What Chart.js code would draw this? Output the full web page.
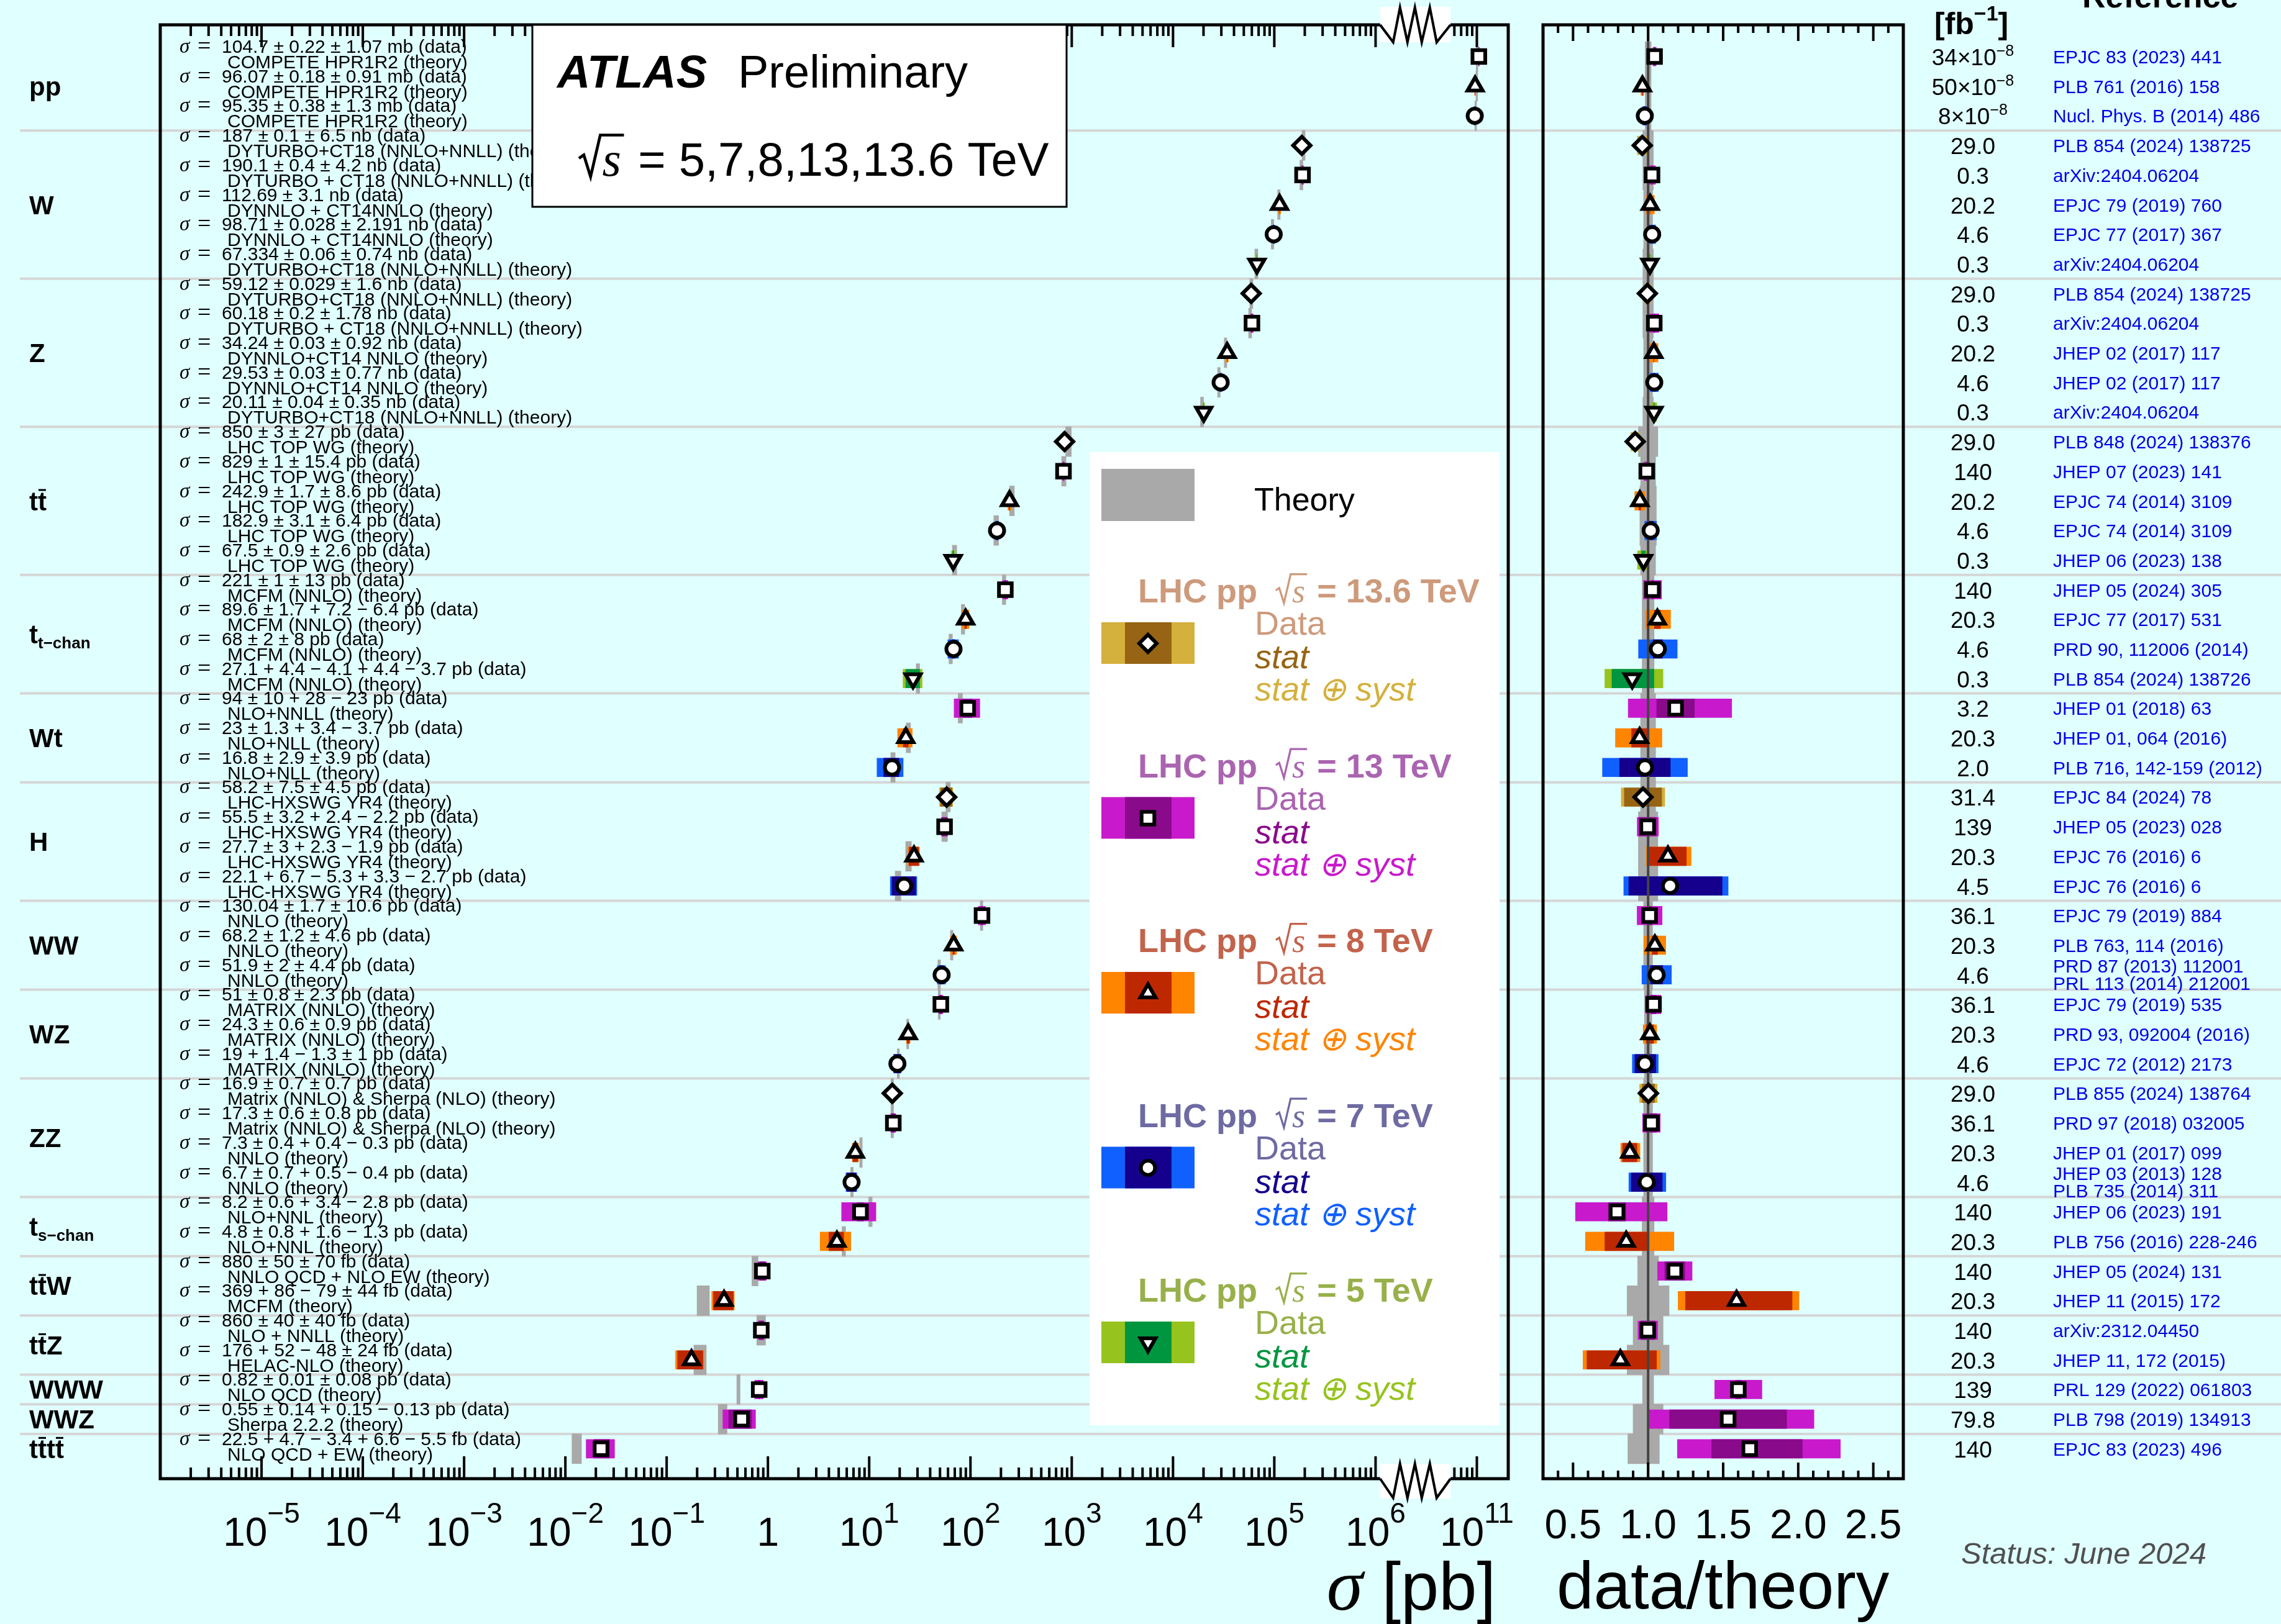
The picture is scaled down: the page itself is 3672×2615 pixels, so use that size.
<!DOCTYPE html>
<html>
<head>
<meta charset="utf-8">
<script src="https://cdn.jsdelivr.net/npm/chart.js@4.4.1/dist/chart.umd.min.js"></script>
<style>
  html, body { margin: 0; padding: 0; background: #e0ffff; }
  canvas { position: absolute; left: 0; top: 0; }
</style>
</head>
<body>
<canvas id="main" width="3672" height="2615"></canvas>
<canvas id="ratio" width="3672" height="2615"></canvas>
<script>
// ---- data ----
const processLabels = [
  [['pp']], [['W']], [['Z']], [['t'], ['t', 'bar']], [['t'], ['t\u2212chan', 'sub']],
  [['Wt']], [['H']], [['WW']], [['WZ']], [['ZZ']], [['t'], ['s\u2212chan', 'sub']],
  [['t'], ['t', 'bar'], ['W']], [['t'], ['t', 'bar'], ['Z']], [['WWW']], [['WWZ']],
  [['t'], ['t', 'bar'], ['t'], ['t', 'bar']]
];
const groupSizes = [3, 5, 5, 5, 4, 3, 4, 3, 3, 4, 2, 2, 2, 1, 1, 1];

const energies = [13, 8, 7, 13.6, 13, 8, 7, 5, 13.6, 13, 8, 7, 5, 13.6, 13, 8, 7, 5, 13, 8, 7, 5,
  13, 8, 7, 13.6, 13, 8, 7, 13, 8, 7, 13, 8, 7, 13.6, 13, 8, 7, 13, 8, 13, 8, 13, 8, 13, 13, 13];

const sigma = [104.7, 96.07, 95.35, 187, 190.1, 112.69, 98.71, 67.334, 59.12, 60.18, 34.24, 29.53, 20.11,
  850, 829, 242.9, 182.9, 67.5, 221, 89.6, 68, 27.1, 94, 23, 16.8, 58.2, 55.5, 27.7, 22.1,
  130.04, 68.2, 51.9, 51, 24.3, 19, 16.9, 17.3, 7.3, 6.7, 8.2, 4.8, 880, 369, 860, 176, 0.82, 0.55, 22.5];
const units = ['mb', 'mb', 'mb', 'nb', 'nb', 'nb', 'nb', 'nb', 'nb', 'nb', 'nb', 'nb', 'nb',
  'pb', 'pb', 'pb', 'pb', 'pb', 'pb', 'pb', 'pb', 'pb', 'pb', 'pb', 'pb', 'pb', 'pb', 'pb', 'pb',
  'pb', 'pb', 'pb', 'pb', 'pb', 'pb', 'pb', 'pb', 'pb', 'pb', 'pb', 'pb', 'fb', 'fb', 'fb', 'fb', 'pb', 'pb', 'fb'];
const statUp = [0.22, 0.18, 0.38, 0.1, 0.4, 0, 0.028, 0.06, 0.029, 0.2, 0.03, 0.03, 0.04,
  3, 1, 1.7, 3.1, 0.9, 1, 1.7, 2, 4.4, 10, 1.3, 2.9, 7.5, 3.2, 3, 6.7,
  1.7, 1.2, 2, 0.8, 0.6, 1.4, 0.7, 0.6, 0.4, 0.7, 0.6, 0.8, 50, 86, 40, 52, 0.01, 0.14, 4.7];
const statDn = [0.22, 0.18, 0.38, 0.1, 0.4, 0, 0.028, 0.06, 0.029, 0.2, 0.03, 0.03, 0.04,
  3, 1, 1.7, 3.1, 0.9, 1, 1.7, 2, 4.1, 10, 1.3, 2.9, 7.5, 3.2, 3, 5.3,
  1.7, 1.2, 2, 0.8, 0.6, 1.3, 0.7, 0.6, 0.4, 0.7, 0.6, 0.8, 50, 79, 40, 48, 0.01, 0.14, 3.4];
const systUp = [1.07, 0.91, 1.3, 6.5, 4.2, 3.1, 2.191, 0.74, 1.6, 1.78, 0.92, 0.77, 0.35,
  27, 15.4, 8.6, 6.4, 2.6, 13, 7.2, 8, 4.4, 28, 3.4, 3.9, 4.5, 2.4, 2.3, 3.3,
  10.6, 4.6, 4.4, 2.3, 0.9, 1, 0.7, 0.8, 0.4, 0.5, 3.4, 1.6, 70, 44, 40, 24, 0.08, 0.15, 6.6];
const systDn = [1.07, 0.91, 1.3, 6.5, 4.2, 3.1, 2.191, 0.74, 1.6, 1.78, 0.92, 0.77, 0.35,
  27, 15.4, 8.6, 6.4, 2.6, 13, 6.4, 8, 3.7, 23, 3.7, 3.9, 4.5, 2.2, 1.9, 2.7,
  10.6, 4.6, 4.4, 2.3, 0.9, 1, 0.7, 0.8, 0.3, 0.4, 2.8, 1.3, 70, 44, 40, 24, 0.08, 0.13, 5.5];

const theoryNames = ['COMPETE HPR1R2', 'COMPETE HPR1R2', 'COMPETE HPR1R2',
  'DYTURBO+CT18 (NNLO+NNLL)', 'DYTURBO + CT18 (NNLO+NNLL)', 'DYNNLO + CT14NNLO', 'DYNNLO + CT14NNLO', 'DYTURBO+CT18 (NNLO+NNLL)',
  'DYTURBO+CT18 (NNLO+NNLL)', 'DYTURBO + CT18 (NNLO+NNLL)', 'DYNNLO+CT14 NNLO', 'DYNNLO+CT14 NNLO', 'DYTURBO+CT18 (NNLO+NNLL)',
  'LHC TOP WG', 'LHC TOP WG', 'LHC TOP WG', 'LHC TOP WG', 'LHC TOP WG',
  'MCFM (NNLO)', 'MCFM (NNLO)', 'MCFM (NNLO)', 'MCFM (NNLO)',
  'NLO+NNLL', 'NLO+NLL', 'NLO+NLL',
  'LHC-HXSWG YR4', 'LHC-HXSWG YR4', 'LHC-HXSWG YR4', 'LHC-HXSWG YR4',
  'NNLO', 'NNLO', 'NNLO', 'MATRIX (NNLO)', 'MATRIX (NNLO)', 'MATRIX (NNLO)',
  'Matrix (NNLO) & Sherpa (NLO)', 'Matrix (NNLO) & Sherpa (NLO)', 'NNLO', 'NNLO',
  'NLO+NNL', 'NLO+NNL', 'NNLO QCD + NLO EW', 'MCFM', 'NLO + NNLL', 'HELAC-NLO',
  'NLO QCD', 'Sherpa 2.2.2', 'NLO QCD + EW'];
// theory prediction [pb] and relative uncertainty band
const theoryPb = [1.004e11, 9.99e10, 9.75e10, 1.946e5, 1.853e5, 1.111e5, 9.61e4, 6.65e4, 5.94e4, 5.78e4, 3.30e4, 2.84e4, 1.935e4,
  930, 836.5, 257, 179.8, 69.7, 214.8, 84.4, 63.8, 30.3, 79.5, 24.4, 17.2, 60.2, 55.7, 24.5, 19.3,
  128.7, 65.3, 49.1, 49.2, 24.0, 19.4, 16.9, 16.9, 8.3, 6.76, 10.3, 5.62, 0.747, 0.232, 0.862, 0.216, 0.512, 0.359, 0.01342];
const thLo = [0.02, 0.02, 0.02, 0.035, 0.035, 0.03, 0.03, 0.035, 0.035, 0.035, 0.03, 0.03, 0.035,
  0.065, 0.05, 0.055, 0.055, 0.05, 0.04, 0.04, 0.04, 0.04, 0.05, 0.05, 0.05, 0.05, 0.065, 0.065, 0.065,
  0.03, 0.03, 0.03, 0.025, 0.025, 0.025, 0.03, 0.03, 0.03, 0.03, 0.04, 0.04, 0.07, 0.14, 0.1, 0.14, 0.037, 0.1, 0.135];
const thHi = [0.02, 0.02, 0.02, 0.035, 0.035, 0.03, 0.03, 0.035, 0.035, 0.035, 0.03, 0.03, 0.035,
  0.065, 0.05, 0.055, 0.055, 0.05, 0.04, 0.04, 0.04, 0.04, 0.05, 0.05, 0.05, 0.05, 0.065, 0.065, 0.065,
  0.03, 0.03, 0.03, 0.025, 0.025, 0.025, 0.03, 0.03, 0.03, 0.03, 0.04, 0.04, 0.07, 0.14, 0.1, 0.14, 0.037, 0.1, 0.075];
const ratio = [1.043, 0.962, 0.978, 0.961, 1.026, 1.014, 1.027, 1.012, 0.995, 1.041, 1.038, 1.041, 1.039,
  0.914, 0.991, 0.945, 1.017, 0.969, 1.029, 1.062, 1.065, 0.894, 1.183, 0.943, 0.979, 0.966, 0.997, 1.132, 1.146,
  1.010, 1.045, 1.057, 1.036, 1.012, 0.979, 1.002, 1.022, 0.878, 0.991, 0.793, 0.854, 1.178, 1.589, 0.998, 0.815, 1.601, 1.533, 1.677];

const lumis = ['34\u00d710^\u22128', '50\u00d710^\u22128', '8\u00d710^\u22128', '29.0', '0.3', '20.2', '4.6', '0.3',
  '29.0', '0.3', '20.2', '4.6', '0.3', '29.0', '140', '20.2', '4.6', '0.3', '140', '20.3', '4.6', '0.3',
  '3.2', '20.3', '2.0', '31.4', '139', '20.3', '4.5', '36.1', '20.3', '4.6', '36.1', '20.3', '4.6',
  '29.0', '36.1', '20.3', '4.6', '140', '20.3', '140', '20.3', '140', '20.3', '139', '79.8', '140'];
const refs = ['EPJC 83 (2023) 441', 'PLB 761 (2016) 158', 'Nucl. Phys. B (2014) 486',
  'PLB 854 (2024) 138725', 'arXiv:2404.06204', 'EPJC 79 (2019) 760', 'EPJC 77 (2017) 367', 'arXiv:2404.06204',
  'PLB 854 (2024) 138725', 'arXiv:2404.06204', 'JHEP 02 (2017) 117', 'JHEP 02 (2017) 117', 'arXiv:2404.06204',
  'PLB 848 (2024) 138376', 'JHEP 07 (2023) 141', 'EPJC 74 (2014) 3109', 'EPJC 74 (2014) 3109', 'JHEP 06 (2023) 138',
  'JHEP 05 (2024) 305', 'EPJC 77 (2017) 531', 'PRD 90, 112006 (2014)', 'PLB 854 (2024) 138726',
  'JHEP 01 (2018) 63', 'JHEP 01, 064 (2016)', 'PLB 716, 142-159 (2012)',
  'EPJC 84 (2024) 78', 'JHEP 05 (2023) 028', 'EPJC 76 (2016) 6', 'EPJC 76 (2016) 6',
  'EPJC 79 (2019) 884', 'PLB 763, 114 (2016)', 'PRD 87 (2013) 112001|PRL 113 (2014) 212001',
  'EPJC 79 (2019) 535', 'PRD 93, 092004 (2016)', 'EPJC 72 (2012) 2173',
  'PLB 855 (2024) 138764', 'PRD 97 (2018) 032005', 'JHEP 01 (2017) 099', 'JHEP 03 (2013) 128|PLB 735 (2014) 311',
  'JHEP 06 (2023) 191', 'PLB 756 (2016) 228-246', 'JHEP 05 (2024) 131', 'JHEP 11 (2015) 172',
  'arXiv:2312.04450', 'JHEP 11, 172 (2015)', 'PRL 129 (2022) 061803', 'PLB 798 (2019) 134913', 'EPJC 83 (2023) 496'];

const legendEnergies = ['13.6', '13', '8', '7', '5'];
const mainTickExps = [-5, -4, -3, -2, -1, 0, 1, 2, 3, 4, 5, 6, 11];
const ratioTickLabels = ['0.5', '1.0', '1.5', '2.0', '2.5'];

// ---- styles ----
const BG = '#e0ffff';
const SANS = '"Liberation Sans", Arial, sans-serif';
const SERIF = '"Liberation Serif", "Times New Roman", serif';
const STYLE = {
  '13.6': { shape: 'rectRot', rot: 0, r: 14, stat: '#966414', syst: '#d4b03c', title: '#cd9a7b' },
  '13': { shape: 'rect', rot: 0, r: 14.5, stat: '#8a0a8c', syst: '#c81acc', title: '#aa64b0' },
  '8': { shape: 'triangle', rot: 0, r: 14, stat: '#be2800', syst: '#ff8400', title: '#c2634b' },
  '7': { shape: 'circle', rot: 0, r: 11.5, stat: '#14008c', syst: '#1060ff', title: '#6e6aa2' },
  '5': { shape: 'triangle', rot: 180, r: 14, stat: '#009640', syst: '#96c31e', title: '#98b04a' }
};
const UNIT = { mb: 1e9, nb: 1e3, pb: 1, fb: 1e-3 };

// broken log axis: 10^6 is followed directly by 10^11
const toU = v => v >= 1e8 ? Math.log10(v) - 4 : Math.log10(v);
const Y_MIN = -1.07, Y_MAX = 48.01;

const st = i => STYLE[String(energies[i])];
const pb = i => sigma[i] * UNIT[units[i]];
const totUp = i => Math.hypot(statUp[i], systUp[i]) * UNIT[units[i]];
const totDn = i => Math.hypot(statDn[i], systDn[i]) * UNIT[units[i]];
const rows = sigma.map((_, i) => i);

const separators = [];
let cum = 0;
groupSizes.forEach((n, g) => { cum += n; if (g < groupSizes.length - 1) separators.push(cum - 0.5); });

function pm(up, dn) { return up === dn ? '\u00b1 ' + up : '+ ' + up + ' \u2212 ' + dn; }
function dataText(i) {
  let s = sigma[i] + ' ';
  if (statUp[i] > 0) s += pm(statUp[i], statDn[i]) + ' ';
  return s + pm(systUp[i], systDn[i]) + ' ' + units[i] + ' (data)';
}

// ---- drawing helpers ----
function sqrtS(ctx, x, y, size, font, color) {
  ctx.font = font;
  const sw = ctx.measureText('s').width;
  ctx.save();
  ctx.strokeStyle = color; ctx.fillStyle = color;
  ctx.lineWidth = size * 0.06; ctx.lineJoin = 'miter';
  ctx.beginPath();
  ctx.moveTo(x, y - 0.36 * size);
  ctx.lineTo(x + 0.1 * size, y - 0.43 * size);
  ctx.lineTo(x + 0.24 * size, y + 0.02 * size);
  ctx.lineTo(x + 0.44 * size, y - 0.84 * size);
  ctx.lineTo(x + 0.54 * size + sw, y - 0.84 * size);
  ctx.stroke();
  ctx.fillText('s', x + 0.48 * size, y);
  ctx.restore();
  return 0.56 * size + sw;
}

function rich(ctx, x, y, segs) {
  let cx = x;
  segs.forEach(s => {
    if (s.sqrt) { cx += sqrtS(ctx, cx, y, s.size, s.f, s.c); return; }
    ctx.font = s.f; ctx.fillStyle = s.c || '#000';
    ctx.fillText(s.t, cx, y + (s.dy || 0));
    cx += ctx.measureText(s.t).width;
  });
  return cx - x;
}

function richWidth(ctx, segs) {
  let w = 0;
  segs.forEach(s => {
    ctx.font = s.f;
    w += s.sqrt ? 0.56 * s.size + ctx.measureText('s').width : ctx.measureText(s.t).width;
  });
  return w;
}

function line(ctx, x1, y1, x2, y2) { ctx.beginPath(); ctx.moveTo(x1, y1); ctx.lineTo(x2, y2); ctx.stroke(); }

function marker(ctx, e, x, y) {
  const s = STYLE[e];
  ctx.save();
  ctx.fillStyle = '#fff'; ctx.strokeStyle = '#000'; ctx.lineWidth = 6;
  Chart.helpers.drawPoint(ctx, { pointStyle: s.shape, rotation: s.rot, radius: s.r, borderWidth: 6 }, x, y);
  ctx.restore();
}

// ---- main panel decorations ----
const mainDecor = {
  id: 'mainDecor',
  beforeDraw(chart) {
    const ctx = chart.ctx, ys = chart.scales.y;
    ctx.save();
    ctx.fillStyle = BG; ctx.fillRect(0, 0, chart.width, chart.height);
    ctx.strokeStyle = '#d6d6d6'; ctx.lineWidth = 4;
    separators.forEach(b => { const y = ys.getPixelForValue(b); line(ctx, 32, y, 3672, y); });
    ctx.fillStyle = '#000';
    rows.forEach(i => {
      const y = ys.getPixelForValue(i);
      ctx.font = 'italic 33px ' + SERIF; ctx.fillText('\u03c3', 289, y - 6);
      ctx.font = '38px ' + SERIF; ctx.fillText('=', 318, y - 5);
      ctx.font = '30px ' + SANS; ctx.fillText(dataText(i), 357, y - 6);
      ctx.fillText(theoryNames[i] + ' (theory)', 366, y + 19);
    });
    ctx.restore();
  },
  afterDraw(chart) {
    const ctx = chart.ctx, xs = chart.scales.x, ys = chart.scales.y, a = chart.chartArea;
    ctx.save();
    // ticks, top and bottom
    ctx.strokeStyle = '#000'; ctx.lineWidth = 4;
    const ticks = [];
    for (let n = -6; n < 6; n++) for (let k = 1; k < 10; k++) ticks.push({ u: n + Math.log10(k), major: k === 1 });
    ticks.push({ u: 6, major: true });
    for (let k = 4; k < 10; k++) ticks.push({ u: 6 + Math.log10(k), major: false });
    ticks.push({ u: 7, major: true });
    ticks.forEach(t => {
      if (t.u <= -5.999) return;
      const x = xs.getPixelForValue(t.u), L = t.major ? 36 : 18;
      line(ctx, x, a.bottom, x, a.bottom - L);
      line(ctx, x, a.top, x, a.top + L);
    });
    ctx.lineWidth = 5;
    ctx.strokeRect(a.left, a.top, a.right - a.left, a.bottom - a.top);
    // axis break
    const b0 = xs.getPixelForValue(6.045), b1 = xs.getPixelForValue(6.74);
    ctx.fillStyle = '#fff';
    ctx.fillRect(b0, a.top - 29, b1 - b0, 57);
    ctx.fillRect(b0, a.bottom - 24, b1 - b0, 56);
    ctx.lineWidth = 4; ctx.lineJoin = 'miter';
    const zx = [0, 21, 32, 44, 56, 67, 80, 91].map(d => b0 + d).concat([b1]);
    const zt = [0, 28, -28, 28, -28, 28, -28, 28, 0];
    const zb = [0, 31, -24, 31, -24, 31, -24, 31, 0];
    ctx.beginPath(); zx.forEach((x, k) => k ? ctx.lineTo(x, a.top + zt[k]) : ctx.moveTo(x, a.top + zt[k])); ctx.stroke();
    ctx.beginPath(); zx.forEach((x, k) => k ? ctx.lineTo(x, a.bottom + zb[k]) : ctx.moveTo(x, a.bottom + zb[k])); ctx.stroke();
    // tick labels
    ctx.fillStyle = '#000';
    mainTickExps.forEach(e => {
      const u = e === 11 ? 7 : e;
      const x = xs.getPixelForValue(u);
      if (e === 0) {
        ctx.font = '64px ' + SANS; ctx.textAlign = 'center'; ctx.fillText('1', x, 2489); ctx.textAlign = 'left'; return;
      }
      const ex = e < 0 ? '\u2212' + (-e) : String(e);
      const segs = [{ t: '10', f: '64px ' + SANS }, { t: ex, f: '46px ' + SANS, dy: -37 }];
      rich(ctx, x - richWidth(ctx, segs) / 2, 2489, segs);
    });
    // axis title
    ctx.font = '110px ' + SANS;
    const pw = ctx.measureText(' [pb]').width;
    ctx.fillText(' [pb]', 2408 - pw, 2592);
    ctx.font = 'italic 118px ' + SERIF;
    const sw = ctx.measureText('\u03c3').width;
    ctx.fillText('\u03c3', 2408 - pw - sw, 2592);
    // process labels
    let start = 0;
    processLabels.forEach((lab, g) => {
      const yc = ys.getPixelForValue(start + (groupSizes[g] - 1) / 2) + 15;
      let x = 47;
      lab.forEach(([t, kind]) => {
        if (kind === 'sub') { ctx.font = 'bold 26px ' + SANS; ctx.fillText(t, x, yc + 8); x += ctx.measureText(t).width; return; }
        ctx.font = 'bold 42px ' + SANS; ctx.fillText(t, x, yc);
        const w = ctx.measureText(t).width;
        if (kind === 'bar') ctx.fillRect(x + 1, yc - 34, w - 2, 3);
        x += w;
      });
      start += groupSizes[g];
    });
    // ATLAS box
    ctx.fillStyle = '#fff'; ctx.fillRect(857, 40, 860, 293);
    ctx.strokeStyle = '#000'; ctx.lineWidth = 3; ctx.strokeRect(857, 40, 860, 293);
    ctx.fillStyle = '#000';
    ctx.font = 'italic bold 74px ' + SANS; ctx.fillText('ATLAS', 897, 141);
    ctx.font = '74px ' + SANS; ctx.fillText('Preliminary', 1188, 141);
    rich(ctx, 932, 283, [{ sqrt: true, size: 78, f: 'italic 78px ' + SERIF, c: '#000' },
      { t: ' = 5,7,8,13,13.6 TeV', f: '76px ' + SANS }]);
    // legend
    ctx.fillStyle = '#fff'; ctx.fillRect(1754, 728, 660, 1567);
    ctx.fillStyle = '#a9a9a9'; ctx.fillRect(1773, 755, 150, 84);
    ctx.fillStyle = '#000'; ctx.font = '52px ' + SANS; ctx.fillText('Theory', 2019, 822);
    legendEnergies.forEach((e, k) => {
      const s = STYLE[e], ty = 970 + k * 281.5, top = 1002 + k * 281.5;
      rich(ctx, 1832, ty, [{ t: 'LHC pp  ', f: 'bold 54px ' + SANS, c: s.title },
        { sqrt: true, size: 54, f: 'italic 54px ' + SERIF, c: s.title },
        { t: ' = ' + e + ' TeV', f: 'bold 54px ' + SANS, c: s.title }]);
      ctx.fillStyle = s.syst; ctx.fillRect(1773, top, 150, 67);
      ctx.fillStyle = s.stat; ctx.fillRect(1811, top, 75, 67);
      marker(ctx, e, 1848, top + 34);
      ctx.font = '54px ' + SANS; ctx.fillStyle = s.title; ctx.fillText('Data', 2020, ty + 52);
      ctx.font = 'italic 54px ' + SANS; ctx.fillStyle = s.stat; ctx.fillText('stat', 2020, ty + 106);
      ctx.fillStyle = s.syst; ctx.fillText('stat \u2295 syst', 2020, ty + 158);
    });
    // luminosity / reference table
    ctx.fillStyle = '#000';
    rich(ctx, 3114, 55, [{ t: '[fb', f: 'bold 50px ' + SANS }, { t: '\u22121', f: 'bold 34px ' + SANS, dy: -22 }, { t: ']', f: 'bold 50px ' + SANS }]);
    ctx.font = 'bold 52px ' + SANS; ctx.fillText('Reference', 3352, 12);
    rows.forEach(i => {
      const yc = ys.getPixelForValue(i);
      const parts = lumis[i].split('^');
      const segs = [{ t: parts[0], f: '37px ' + SANS, c: '#000' }];
      if (parts[1]) segs.push({ t: parts[1], f: '25px ' + SANS, c: '#000', dy: -15 });
      rich(ctx, 3176 - richWidth(ctx, segs) / 2, yc + 14, segs);
      ctx.fillStyle = '#0000e6'; ctx.font = '30px ' + SANS;
      const rl = refs[i].split('|');
      if (rl.length === 2) { ctx.fillText(rl[0], 3305, yc - 4); ctx.fillText(rl[1], 3305, yc + 24); }
      else ctx.fillText(rl[0], 3305, yc + 11);
    });
    ctx.fillStyle = '#505050'; ctx.font = 'italic 49px ' + SANS;
    ctx.fillText('Status: June 2024', 3157, 2518);
    ctx.restore();
  }
};

// ---- ratio panel decorations ----
const ratioDecor = {
  id: 'ratioDecor',
  afterDraw(chart) {
    const ctx = chart.ctx, xs = chart.scales.x, a = chart.chartArea;
    ctx.save();
    ctx.strokeStyle = '#000'; ctx.lineWidth = 4;
    for (let k = 3; k <= 27; k++) {
      const x = xs.getPixelForValue(k / 10), L = k % 5 === 0 ? 26 : 13;
      line(ctx, x, a.bottom, x, a.bottom - L);
      line(ctx, x, a.top, x, a.top + L);
    }
    ctx.lineWidth = 5;
    ctx.strokeRect(a.left, a.top, a.right - a.left, a.bottom - a.top);
    ctx.fillStyle = '#000'; ctx.textAlign = 'center';
    ctx.font = '66px ' + SANS;
    ratioTickLabels.forEach(t => ctx.fillText(t, xs.getPixelForValue(parseFloat(t)), 2477));
    ctx.textAlign = 'left'; ctx.font = '107px ' + SANS;
    ctx.fillText('data/theory', 2506, 2590);
    ctx.restore();
  }
};

Chart.defaults.font.family = SANS;
const common = {
  responsive: false, animation: false, devicePixelRatio: 1,
  plugins: { legend: { display: false }, tooltip: { enabled: false } }
};
const yScale = { type: 'linear', min: Y_MIN, max: Y_MAX, reverse: true, display: false, offset: false };
const barSet = (data, color, thick, order) => ({
  type: 'bar', indexAxis: 'y', grouped: false, data, backgroundColor: color,
  barThickness: thick, borderWidth: 0, order
});
const markerSet = pts => ({
  type: 'scatter', data: pts, order: 0,
  pointStyle: rows.map(i => st(i).shape), pointRotation: rows.map(i => st(i).rot),
  pointRadius: rows.map(i => st(i).r), pointBackgroundColor: '#fff', pointBorderColor: '#000', pointBorderWidth: 6
});

new Chart(document.getElementById('main'), {
  type: 'scatter',
  data: {
    datasets: [
      markerSet(rows.map(i => ({ x: toU(pb(i)), y: i }))),
      barSet(rows.map(i => ({ y: i, x: [toU(pb(i) - statDn[i] * UNIT[units[i]]), toU(pb(i) + statUp[i] * UNIT[units[i]])] })), rows.map(i => st(i).stat), 30, 1),
      barSet(rows.map(i => ({ y: i, x: [toU(pb(i) - totDn(i)), toU(pb(i) + totUp(i))] })), rows.map(i => st(i).syst), 30, 2),
      barSet(rows.map(i => ({ y: i, x: [toU(theoryPb[i] * (1 - thLo[i])), toU(theoryPb[i] * (1 + thHi[i]))] })), '#a9a9a9', 48, 3)
    ]
  },
  options: Object.assign({}, common, {
    layout: { padding: { left: 258, right: 3672 - 2428, top: 40, bottom: 2615 - 2381 } },
    scales: { x: { type: 'linear', min: -6, max: 7.31, display: false, offset: false }, y: yScale }
  }),
  plugins: [mainDecor]
});

new Chart(document.getElementById('ratio'), {
  type: 'scatter',
  data: {
    datasets: [
      markerSet(rows.map(i => ({ x: ratio[i], y: i }))),
      { type: 'line', data: [{ x: 1, y: Y_MIN }, { x: 1, y: Y_MAX }], borderColor: '#444', borderWidth: 4, pointRadius: 0, order: 1 },
      barSet(rows.map(i => ({ y: i, x: [ratio[i] * (1 - statDn[i] / sigma[i]), ratio[i] * (1 + statUp[i] / sigma[i])] })), rows.map(i => st(i).stat), 30, 2),
      barSet(rows.map(i => ({ y: i, x: [ratio[i] * (1 - totDn(i) / pb(i)), ratio[i] * (1 + totUp(i) / pb(i))] })), rows.map(i => st(i).syst), 30, 3),
      barSet(rows.map(i => ({ y: i, x: [1 - thLo[i], 1 + thHi[i]] })), '#a9a9a9', 48, 4)
    ]
  },
  options: Object.assign({}, common, {
    layout: { padding: { left: 2484, right: 3672 - 3064, top: 40, bottom: 2615 - 2381 } },
    scales: { x: { type: 'linear', min: 0.3, max: 2.7, display: false, offset: false }, y: yScale }
  }),
  plugins: [ratioDecor]
});
</script>
</body>
</html>
